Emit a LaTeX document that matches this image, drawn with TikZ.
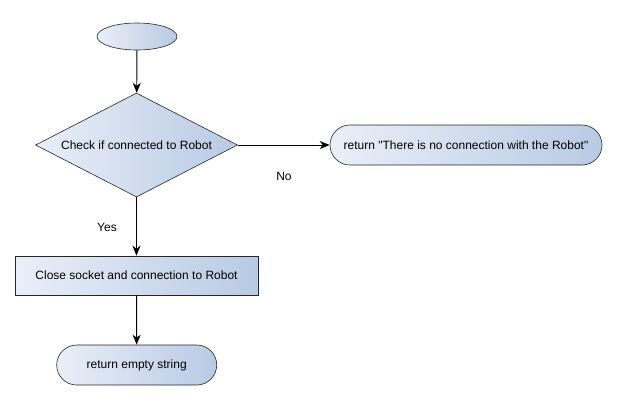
\documentclass[tikz,border=0pt]{standalone}
\usepackage{fontspec}
\setmainfont{Liberation Sans}
\usetikzlibrary{shapes.geometric,arrows.meta}
\begin{document}
\begin{tikzpicture}[x=1pt,y=-1pt,
  font=\fontsize{12}{14}\selectfont,
  gradfill/.style={draw=black!85,line width=0.6pt,left color={rgb,255:red,234;green,239;blue,248},right color={rgb,255:red,184;green,202;blue,228}},
  arr/.style={-{Stealth[length=10pt,width=8pt,inset=3pt]},line width=0.9pt},
  term/.style={gradfill,rounded corners=20pt,minimum height=40pt,inner sep=0pt}
]
\useasboundingbox (0,0) rectangle (617,400);
\node[gradfill,ellipse,minimum width=80pt,minimum height=27pt,inner sep=0pt] (start) at (137,36.5) {};
\node[gradfill,diamond,minimum width=202pt,minimum height=104pt,inner sep=0pt,aspect=1.94] (check) at (136.5,145) {};
\node at (136.5,145) {Check if connected to Robot};
\node[term,minimum width=272pt] (noconn) at (466,145) {return \textquotedbl There is no connection with the Robot\textquotedbl};
\node[gradfill,rectangle,minimum width=243pt,minimum height=39pt,inner sep=0pt] (close) at (136.5,275.5) {Close socket and connection to Robot};
\node[term,minimum width=160pt] (ret) at (136.7,365) {return empty string};
\node (no) at (284,176) {No};
\node (yes) at (107,227) {Yes};
\draw[arr] (start) -- (check);
\draw[arr] (check.east) -- (noconn.west);
\draw[arr] (check.south) -- (close.north);
\draw[arr] (close) -- (ret);
\end{tikzpicture}
\end{document}
